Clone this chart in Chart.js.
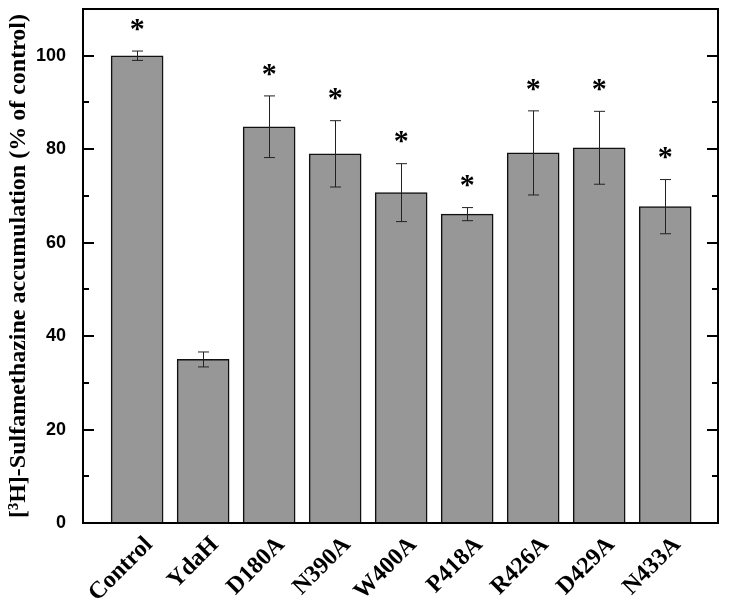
<!doctype html>
<html>
<head>
    <title>Sulfamethazine accumulation</title>
    <script src="https://cdn.jsdelivr.net/npm/chart.js@4.4.1/dist/chart.umd.min.js"></script>
    <style>
    body { margin: 0; background: #fff; }
    #container { width: 729px; height: 609px; }
    </style>
</head>
<body>
    <div id="container">
        <canvas id="canvas"></canvas>
    </div>
    <script>
        var CATEGORIES = ["Control", "YdaH", "D180A", "N390A", "W400A", "P418A", "R426A", "D429A", "N433A"];
        var MEANS = [100, 35, 84.8, 79.0, 70.7, 66.1, 79.2, 80.3, 67.7];
        var ERRORS = [1.0, 1.6, 6.6, 7.1, 6.2, 1.4, 9.0, 7.8, 5.8];
        var SIGNIFICANT = [true, false, true, true, true, true, true, true, true];
        var Y_TICKS = [0, 20, 40, 60, 80, 100];

        var points = CATEGORIES.map(function(c, i) {
            return { x: i, y: MEANS[i] };
        });

        // frame, inward ticks, error bars and asterisks
        var extras = {
            id: 'extras',
            afterDatasetsDraw: function(chart) {
                var ctx = chart.ctx;
                var area = chart.chartArea;
                var xs = chart.scales.x, ys = chart.scales.y;
                ctx.save();

                // error bars
                ctx.strokeStyle = '#222';
                ctx.lineWidth = 1;
                for (var i = 0; i < MEANS.length; i++) {
                    var px = Math.round(xs.getPixelForValue(i)) + 0.5;
                    var top = ys.getPixelForValue(MEANS[i] + ERRORS[i]);
                    var bot = ys.getPixelForValue(MEANS[i] - ERRORS[i]);
                    ctx.beginPath();
                    ctx.moveTo(px, top); ctx.lineTo(px, bot);
                    ctx.moveTo(px - 5.5, top); ctx.lineTo(px + 5.5, top);
                    ctx.moveTo(px - 5.5, bot); ctx.lineTo(px + 5.5, bot);
                    ctx.stroke();
                }

                // asterisks
                ctx.fillStyle = '#000';
                ctx.font = 'bold 30px "Liberation Serif", "Times New Roman", serif';
                ctx.textAlign = 'center';
                ctx.textBaseline = 'middle';
                for (var j = 0; j < MEANS.length; j++) {
                    if (!SIGNIFICANT[j]) continue;
                    var ax = xs.getPixelForValue(j);
                    var ay = ys.getPixelForValue(MEANS[j] + ERRORS[j]) - 21;
                    ctx.fillText('*', ax, ay);
                }

                // frame
                ctx.strokeStyle = '#000';
                ctx.lineWidth = 2;
                ctx.strokeRect(area.left, area.top, area.right - area.left, area.bottom - area.top);

                // inward ticks on left and right
                ctx.lineWidth = 2;
                for (var v = 10; v < ys.max; v += 10) {
                    var py = Math.round(ys.getPixelForValue(v));
                    var len = (v % 20 === 0) ? 11 : 6;
                    ctx.beginPath();
                    ctx.moveTo(area.left, py); ctx.lineTo(area.left + len, py);
                    ctx.moveTo(area.right, py); ctx.lineTo(area.right - len, py);
                    ctx.stroke();
                }
                ctx.restore();
            }
        };

        window.onload = function() {
            var ctx = document.getElementById("canvas").getContext("2d");
            window.myBar = new Chart(ctx, {
                type: 'bar',
                data: {
                    datasets: [{
                        data: points,
                        backgroundColor: '#979797',
                        borderColor: '#111',
                        borderWidth: 1.5,
                        barThickness: 52
                    }]
                },
                options: {
                    responsive: true,
                    maintainAspectRatio: false,
                    animation: false,
                    layout: { padding: { left: 0, top: 9, right: 11, bottom: 0 } },
                    plugins: {
                        legend: { display: false },
                        tooltip: { enabled: false }
                    },
                    scales: {
                        x: {
                            type: 'linear',
                            offset: false,
                            min: -0.82,
                            max: 8.8,
                            grid: { display: false },
                            border: { display: false },
                            afterBuildTicks: function(scale) {
                                scale.ticks = CATEGORIES.map(function(c, i) { return { value: i }; });
                            },
                            afterFit: function(scale) {
                                scale.height = 86;
                                scale.paddingLeft = 0;
                                scale.paddingRight = 0;
                            },
                            ticks: {
                                autoSkip: false,
                                minRotation: 45,
                                maxRotation: 45,
                                padding: 0,
                                labelOffset: 12,
                                color: '#000',
                                font: { family: '"Liberation Serif", "Times New Roman", serif', size: 24, weight: 'bold' },
                                callback: function(v) { return CATEGORIES[v]; }
                            }
                        },
                        y: {
                            min: 0,
                            max: 110,
                            grid: { display: false },
                            border: { display: false },
                            afterBuildTicks: function(scale) {
                                scale.ticks = Y_TICKS.map(function(v) { return { value: v }; });
                            },
                            afterFit: function(scale) {
                                scale.width = 83;
                                scale.paddingTop = 0;
                                scale.paddingBottom = 0;
                            },
                            ticks: {
                                padding: 9,
                                color: '#000',
                                font: { family: '"Liberation Sans", Arial, sans-serif', size: 18, weight: 'bold' }
                            },
                            title: {
                                display: true,
                                text: '[\u00B3H]-Sulfamethazine accumulation (% of control)',
                                color: '#000',
                                padding: { top: 4, bottom: 2 },
                                font: { family: '"Liberation Serif", "Times New Roman", serif', size: 24, weight: 'bold' }
                            }
                        }
                    }
                },
                plugins: [extras]
            });
        };
    </script>
</body>
</html>
